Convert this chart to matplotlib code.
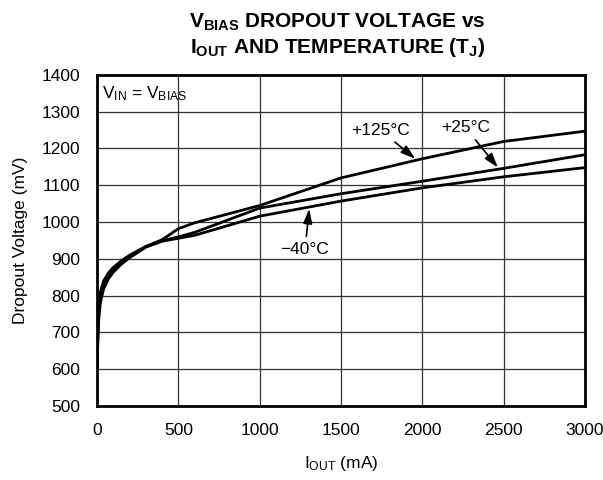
import matplotlib
matplotlib.use('Agg')
import matplotlib.pyplot as plt

plt.rcParams['font.family'] = ['Liberation Sans', 'DejaVu Sans']
plt.rcParams['mathtext.fontset'] = 'custom'
plt.rcParams['mathtext.rm'] = 'Liberation Sans'
plt.rcParams['mathtext.it'] = 'Liberation Sans'
plt.rcParams['mathtext.bf'] = 'Liberation Sans:bold'

# output current (mA)
I_out = [0, 5, 10, 20, 40, 70, 100, 150, 200, 300, 400, 500, 600,
         1000, 1500, 2000, 2500, 3000]

# dropout voltage (mV) per junction temperature
V_m40 = [600, 680, 735, 780, 818, 846, 864, 886, 903, 932, 948, 956, 964,
         1016, 1057, 1093, 1123, 1148]
V_25 = [600, 700, 752, 795, 830, 855, 871, 891, 907, 933, 949, 960, 972,
        1038, 1077, 1111, 1146, 1183]
V_125 = [600, 718, 770, 810, 840, 862, 877, 895, 910, 934, 952, 982, 998,
         1045, 1120, 1172, 1219, 1247]

fig = plt.figure(figsize=(6.03, 4.8), dpi=100)
ax = fig.add_axes([0.161, 0.154, 0.809, 0.690])

for V in (V_m40, V_25, V_125):
    ax.plot(I_out, V, color='black', lw=2.0, solid_capstyle='butt')

ax.set_xlim(0, 3000)
ax.set_ylim(500, 1400)
ax.set_xticks(range(0, 3001, 500))
ax.set_yticks(range(500, 1401, 100))
ax.grid(True, color='#333333', lw=0.9)
ax.set_axisbelow(True)
for s in ax.spines.values():
    s.set_linewidth(2.0)
ax.tick_params(length=0, labelsize=12.5, pad=12)

ax.set_xlabel(r'I$_{\mathrm{OUT}}$ (mA)', fontsize=12.5, labelpad=12)
ax.set_ylabel('Dropout Voltage (mV)', fontsize=12.5, labelpad=10)

fig.text(0.56, 0.976, r'$\mathbf{V_{BIAS}}$ DROPOUT VOLTAGE vs',
         ha='center', va='top', fontsize=15, fontweight='bold')
fig.text(0.56, 0.926, r'$\mathbf{I_{OUT}}$ AND TEMPERATURE (T$\mathbf{_J}$)',
         ha='center', va='top', fontsize=15, fontweight='bold')

ax.text(30, 1350, r'V$_{\mathrm{IN}}$ = V$_{\mathrm{BIAS}}$', fontsize=12.5,
        ha='left', va='center')

arw = dict(arrowstyle='-|>,head_length=0.7,head_width=0.22', color='black',
           lw=1.2, shrinkA=2, shrinkB=0)
ax.annotate('+125°C', xy=(1957, 1172), xytext=(1741, 1250), fontsize=12.5,
            ha='center', va='center', arrowprops=arw)
ax.annotate('+25°C', xy=(2465, 1148), xytext=(2265, 1257), fontsize=12.5,
            ha='center', va='center', arrowprops=arw)
ax.annotate('\u221240°C', xy=(1305, 1036), xytext=(1278, 926), fontsize=12.5,
            ha='center', va='center', arrowprops=arw)

plt.savefig('out.png', dpi=100)
